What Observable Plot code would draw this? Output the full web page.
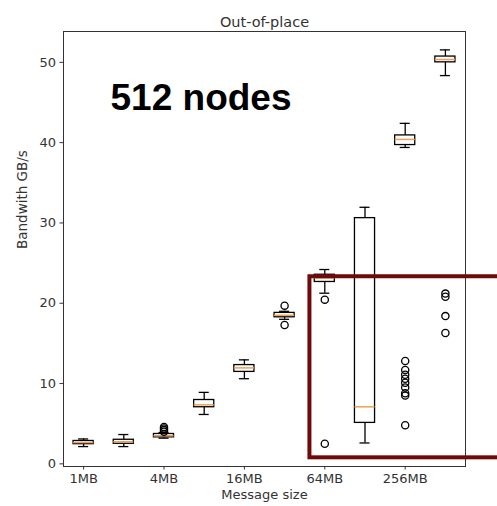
<!DOCTYPE html>
<html>
<head>
<meta charset="utf-8">
<script src="https://cdn.jsdelivr.net/npm/d3@7"></script>
<script src="https://cdn.jsdelivr.net/npm/@observablehq/plot@0.6"></script>
<style>
  html, body { margin: 0; padding: 0; background: #fff; }
  #chart svg { display: block; }
</style>
</head>
<body>
<div id="chart"></div>
<script>
// ---- data ----
const sizes      = ["1MB","2MB","4MB","8MB","16MB","32MB","64MB","128MB","256MB","512MB"];
const positions  = [1,2,3,4,5,6,7,8,9,10];
const whiskerLo  = [2.15, 2.15, 3.2, 6.15, 10.6, 18.0, 21.25, 2.6, 39.4, 48.35];
const q1         = [2.45, 2.5, 3.3, 7.05, 11.45, 18.25, 22.65, 5.1, 39.7, 50.0];
const medians    = [2.65, 2.75, 3.5, 7.35, 11.95, 18.5, 23.15, 7.1, 40.4, 50.35];
const q3         = [2.85, 3.0, 3.72, 7.95, 12.3, 18.8, 23.55, 30.6, 40.9, 50.72];
const whiskerHi  = [3.1, 3.65, 3.9, 8.9, 12.95, 19.0, 24.2, 31.95, 42.4, 51.55];

const outlierPos = [3,3,3,3, 6,6, 7,7, 9,9,9,9,9,9,9,9,9, 10,10,10,10];
const outlierVal = [4.0,4.2,4.4,4.6, 19.7,17.3, 20.45,2.5,
                    12.8,11.7,11.1,10.6,10.1,9.5,8.8,8.5,4.8,
                    21.2,20.8,18.4,16.3];

const yTicks     = [0,10,20,30,40,50];
const xTickPos   = [1,3,5,7,9];
const xTickText  = ["1MB","4MB","16MB","64MB","256MB"];

const titleText  = "Out-of-place";
const xLabel     = "Message size";
const yLabel     = "Bandwith GB/s";
const noteText   = ["512 nodes"];
const noteX      = [1.67];
const noteY      = [44.1];
// highlight rectangle (data coords)
const hlX1 = [6.63], hlX2 = [11.6], hlY1 = [0.75], hlY2 = [23.3];

// ---- build tables ----
const boxes = positions.map((p, i) => ({
  p, x1: p - 0.25, x2: p + 0.25, c1: p - 0.125, c2: p + 0.125,
  lo: whiskerLo[i], q1: q1[i], med: medians[i], q3: q3[i], hi: whiskerHi[i]
}));
const outliers = outlierPos.map((p, i) => ({p, v: outlierVal[i]}));
const notes = noteText.map((t, i) => ({t, x: noteX[i], y: noteY[i]}));
const hl = hlX1.map((x, i) => ({x1: x, x2: hlX2[i], y1: hlY1[i], y2: hlY2[i]}));

const font = "'DejaVu Sans', sans-serif";

const chart = Plot.plot({
  width: 497,
  height: 506,
  marginTop: 31,
  marginBottom: 40,
  marginLeft: 63,
  marginRight: 32,
  style: {fontFamily: font, fontSize: "13px", color: "#333", background: "#fff", overflow: "visible"},
  x: {domain: [0.5, 10.5], ticks: xTickPos, tickFormat: d => xTickText[xTickPos.indexOf(d)], tickSize: 3.5, tickPadding: 4, label: null},
  y: {domain: [-0.33, 53.84], ticks: yTicks, tickSize: 3.5, tickPadding: 4, label: null},
  marks: [
    Plot.frame({stroke: "#333", strokeWidth: 1}),
    // whiskers
    Plot.ruleX(boxes, {x: "p", y1: "lo", y2: "q1", stroke: "#000", strokeWidth: 1.3}),
    Plot.ruleX(boxes, {x: "p", y1: "q3", y2: "hi", stroke: "#000", strokeWidth: 1.3}),
    // caps
    Plot.ruleY(boxes, {y: "lo", x1: "c1", x2: "c2", stroke: "#000", strokeWidth: 1.3}),
    Plot.ruleY(boxes, {y: "hi", x1: "c1", x2: "c2", stroke: "#000", strokeWidth: 1.3}),
    // boxes
    Plot.rect(boxes, {x1: "x1", x2: "x2", y1: "q1", y2: "q3", fill: "#fff", stroke: "#000", strokeWidth: 1.3}),
    // medians
    Plot.ruleY(boxes, {y: "med", x1: "x1", x2: "x2", stroke: "#f0a050", strokeWidth: 1.5}),
    // outliers
    Plot.dot(outliers, {x: "p", y: "v", r: 3.6, stroke: "#000", fill: "none", strokeWidth: 1.3}),
    // annotation text
    Plot.text(notes, {x: "x", y: "y", text: "t", textAnchor: "start", lineAnchor: "bottom",
      fontFamily: "'Liberation Sans', Arial, sans-serif", fontWeight: "bold", fontSize: 37, fill: "#000"}),
    // highlight rectangle
    Plot.rect(hl, {x1: "x1", x2: "x2", y1: "y1", y2: "y2", fill: "none", stroke: "#6e0a0a", strokeWidth: 4, clip: false}),
    // title and axis labels
    Plot.text([titleText], {frameAnchor: "top", dy: -15, text: d => d, fontSize: 14.5, fill: "#333"}),
    Plot.text([xLabel], {frameAnchor: "bottom", dy: 32, text: d => d, fontSize: 13, fill: "#333"}),
    Plot.text([yLabel], {frameAnchor: "left", dx: -41, rotate: -90, text: d => d, fontSize: 13.5, fill: "#333"})
  ]
});
document.getElementById("chart").appendChild(chart);
</script>
</body>
</html>
